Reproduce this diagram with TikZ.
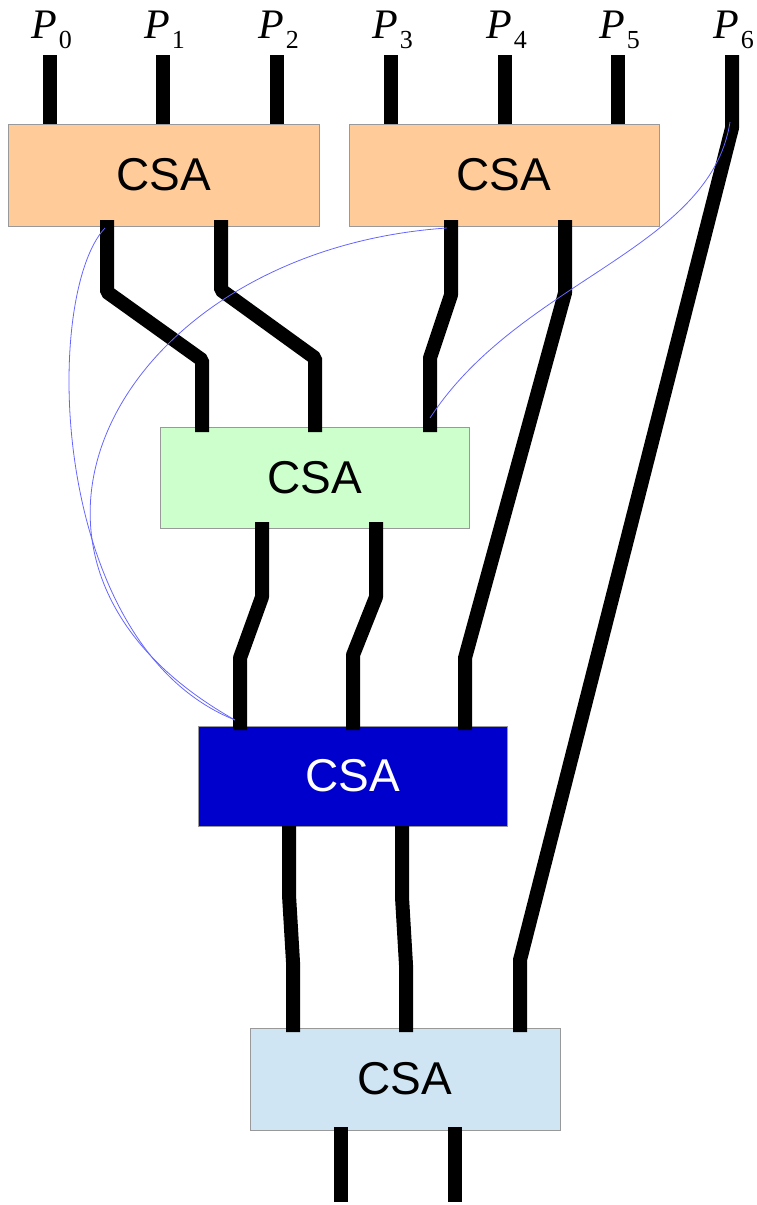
\documentclass[tikz,border=0pt]{standalone}
\usepackage{fontspec}
\setmainfont{Liberation Serif}
\newfontfamily\csafont{Liberation Sans}
\definecolor{csaorange}{HTML}{FFCC99}
\definecolor{csagreen}{HTML}{CCFFCC}
\definecolor{csablue}{HTML}{0000CC}
\definecolor{csalight}{HTML}{CFE5F3}
\definecolor{linkblue}{HTML}{6666FF}
\definecolor{boxborder}{HTML}{999999}
\begin{document}
\begin{tikzpicture}[x=1pt,y=-1pt,
  csabox/.style={draw=boxborder, line width=1pt, inner sep=0pt,
    font=\csafont\fontsize{46}{50}\selectfont},
  wire/.style={line width=14pt, line cap=butt, line join=bevel, black},
  link/.style={draw=linkblue, line width=0.8pt},
  lab/.style={anchor=base west, inner sep=0pt, font=\fontsize{42}{42}\selectfont}]
\useasboundingbox (0,0) rectangle (757,1205);
\newcommand{\plabel}[1]{{\itshape P}\kern2pt\raisebox{-10pt}{\fontsize{26}{26}\selectfont #1}}
% labels
\foreach \i/\x in {0/50,1/163,2/277,3/391,4/505,5/618,6/732}{
  \node[lab] (P\i) at (\x-19,38) {\plabel{\i}};
  \coordinate (in\i) at (\x,55);
}
% boxes
\node[csabox, fill=csaorange, minimum width=311pt, minimum height=102pt] (c1) at (163.5,175) {CSA};
\node[csabox, fill=csaorange, minimum width=310pt, minimum height=102pt] (c2) at (504,175) {CSA};
\node[csabox, fill=csagreen, minimum width=309pt, minimum height=101pt] (c3) at (314.5,477.5) {CSA};
\node[csabox, fill=csablue, text=white, minimum width=309pt, minimum height=100pt] (c4) at (352.5,776) {CSA};
\node[csabox, fill=csalight, minimum width=310pt, minimum height=102pt] (c5) at (405,1079) {CSA};
% input wires
\foreach \i in {0,1,2}{\draw[wire] (in\i) -- (in\i |- c1.north);}
\foreach \i in {3,4,5}{\draw[wire] (in\i) -- (in\i |- c2.north);}
% coordinates of wire ends
\coordinate (a1) at (107,220); \coordinate (a2) at (221,220);
\coordinate (b1) at (451,220); \coordinate (b2) at (565,220);
\coordinate (g1) at (202,432); \coordinate (g2) at (315,432); \coordinate (g3) at (430,432);
\coordinate (go1) at (262,522); \coordinate (go2) at (376,522);
\coordinate (h1) at (240,730); \coordinate (h2) at (353,730); \coordinate (h3) at (465,730);
\coordinate (ho1) at (289,826); \coordinate (ho2) at (402,826);
\coordinate (k1) at (293,1032); \coordinate (k2) at (406,1032); \coordinate (k3) at (520,1032);
\coordinate (ko1) at (341,1127); \coordinate (ko2) at (455,1127);
\coordinate (e1) at (341,1202); \coordinate (e2) at (455,1202);
% wires
\draw[wire] (a1) -- (107,292) -- (202,360) -- (g1);
\draw[wire] (a2) -- (221,290) -- (315,358) -- (g2);
\draw[wire] (b1) -- (451,295) -- (430,358) -- (g3);
\draw[wire] (b2) -- (565,293) -- (465,658) -- (h3);
\draw[wire] (in6) -- (732,128) -- (520,960) -- (k3);
\draw[wire] (go1) -- (262,597) -- (240,658) -- (h1);
\draw[wire] (go2) -- (376,597) -- (353,655) -- (h2);
\draw[wire] (ho1) -- (289,895) -- (293,962) -- (k1);
\draw[wire] (ho2) -- (402,897) -- (406,965) -- (k2);
\draw[wire] (ko1) -- (e1);
\draw[wire] (ko2) -- (e2);
% blue links
\coordinate (l1s) at (105,228);
\coordinate (l2s) at (447,228);
\coordinate (l3s) at (730,122);
\coordinate (lend) at (235,720);
\coordinate (l3e) at (430,418);
\draw[link] (l1s) .. controls (42,295) and (48,645) .. (lend);
\draw[link] (l2s) .. controls (120,250) and (-50,560) .. (lend);
\draw[link] (l3s) .. controls (710,250) and (520,280) .. (l3e);
\end{tikzpicture}
\end{document}
